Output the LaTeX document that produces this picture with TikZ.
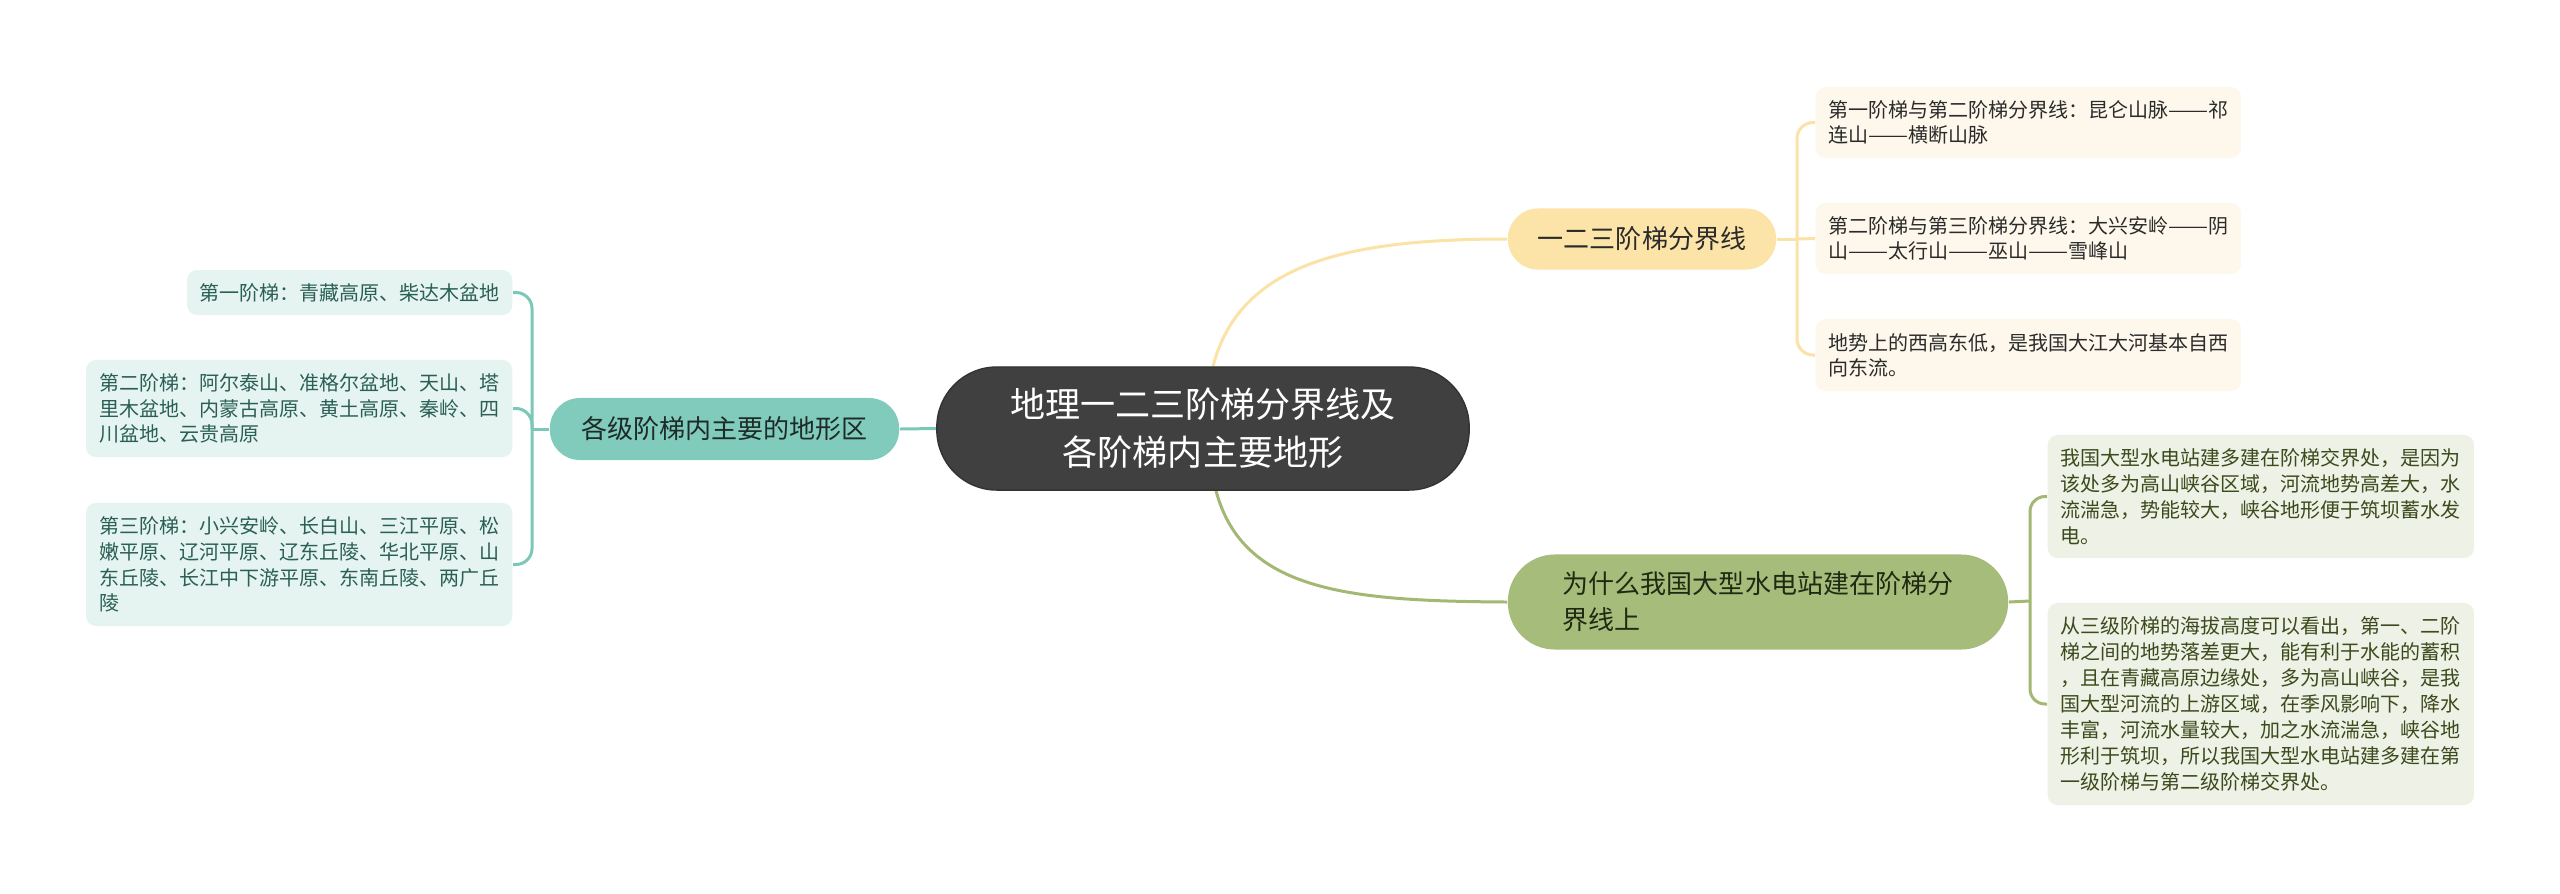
\documentclass[tikz,border=0pt]{standalone}
\usepackage{fontspec}
\usepackage{graphicx}
\newfontfamily\cjk{Noto Sans CJK SC}
\newcommand\zdash{\resizebox{2em}{\height}{——}}
\usetikzlibrary{backgrounds,calc}
\definecolor{cfill}{HTML}{404040}
\definecolor{cdraw}{HTML}{333333}
\definecolor{yfill}{HTML}{FCE3A8}
\definecolor{yline}{HTML}{FBE2A6}
\definecolor{yleaf}{HTML}{FDF8EB}
\definecolor{ytext}{HTML}{2B2B2B}
\definecolor{gfill}{HTML}{A6BC7B}
\definecolor{gline}{HTML}{A2B873}
\definecolor{gleaf}{HTML}{EEF1E6}
\definecolor{gtext}{HTML}{1F2A12}
\definecolor{gltext}{HTML}{3C4A1C}
\definecolor{tfill}{HTML}{80CBBC}
\definecolor{tline}{HTML}{7CC8B8}
\definecolor{tleaf}{HTML}{E5F4F0}
\definecolor{ttext}{HTML}{1E2B28}
\definecolor{tltext}{HTML}{2A5F55}
\begin{document}
\begin{tikzpicture}[x=0.01cm,y=-0.01cm,
  central/.style={fill=cfill, draw=cdraw, line width=0.4pt, rounded corners=0.6cm, text=white,
    font=\cjk\fontsize{9.96pt}{13.66pt}\selectfont, align=center, inner sep=0pt,
    minimum width=5.32cm, minimum height=1.23cm},
  lone/.style={inner sep=0pt, font=\cjk\fontsize{7.4pt}{10.24pt}\selectfont, align=left},
  leaf/.style={inner sep=0pt, rounded corners=0.1cm, align=left},
  rtleaf/.style={leaf, fill=yleaf, text=ytext, font=\cjk\fontsize{5.69pt}{7.11pt}\selectfont,
    minimum width=4.25cm, anchor=west},
  rbleaf/.style={leaf, fill=gleaf, text=gltext, font=\cjk\fontsize{5.69pt}{7.4pt}\selectfont,
    minimum width=4.26cm, anchor=west},
  lbleaf/.style={leaf, fill=tleaf, text=tltext, font=\cjk\fontsize{5.69pt}{7.3pt}\selectfont,
    anchor=east},
  conn/.style={line width=0.85pt},
  yc/.style={conn, draw=yline},
  gc/.style={conn, draw=gline},
  tc/.style={conn, draw=tline},
]
\useasboundingbox (0,0) rectangle (2560,893);

% central and first-level nodes
\node[central] (C) at (1203,428.5) {地理一二三阶梯分界线及\\各阶梯内主要地形};
\node[lone, fill=yfill, text=ytext, rounded corners=0.3cm, minimum width=2.68cm, minimum height=0.61cm] (Y) at (1642,239) {一二三阶梯分界线};
\node[lone, fill=gfill, text=gtext, rounded corners=0.47cm, minimum width=5.0cm, minimum height=0.95cm] (G) at (1758,602) {为什么我国大型水电站建在阶梯分\\界线上};
\node[lone, fill=tfill, text=ttext, rounded corners=0.3cm, minimum width=3.49cm, minimum height=0.62cm] (T) at (724.5,429) {各级阶梯内主要的地形区};

% right top leaves
\node[rtleaf, minimum height=0.71cm] (RT1) at (1815,122.5) {第一阶梯与第二阶梯分界线：昆仑山脉\zdash 祁\\连山\zdash 横断山脉};
\node[rtleaf, minimum height=0.71cm] (RT2) at (1815,238.5) {第二阶梯与第三阶梯分界线：大兴安岭\zdash 阴\\山\zdash 太行山\zdash 巫山\zdash 雪峰山};
\node[rtleaf, minimum height=0.72cm] (RT3) at (1815,355) {地势上的西高东低，是我国大江大河基本自西\\向东流。};

% right bottom leaves
\node[rbleaf, minimum height=1.23cm] (RB1) at (2047,496.5) {我国大型水电站建多建在阶梯交界处，是因为\\该处多为高山峡谷区域，河流地势高差大，水\\流湍急，势能较大，峡谷地形便于筑坝蓄水发\\电。};
\node[rbleaf, minimum height=2.02cm] (RB2) at (2047,704) {从三级阶梯的海拔高度可以看出，第一、二阶\\梯之间的地势落差更大，能有利于水能的蓄积\\，且在青藏高原边缘处，多为高山峡谷，是我\\国大型河流的上游区域，在季风影响下，降水\\丰富，河流水量较大，加之水流湍急，峡谷地\\形利于筑坝，所以我国大型水电站建多建在第\\一级阶梯与第二级阶梯交界处。};

% left leaves
\node[lbleaf, minimum width=3.25cm, minimum height=0.45cm] (LB1) at (513,292.5) {第一阶梯：青藏高原、柴达木盆地};
\node[lbleaf, minimum width=4.26cm, minimum height=0.97cm] (LB2) at (513,408.5) {第二阶梯：阿尔泰山、准格尔盆地、天山、塔\\里木盆地、内蒙古高原、黄土高原、秦岭、四\\川盆地、云贵高原};
\node[lbleaf, minimum width=4.26cm, minimum height=1.23cm] (LB3) at (513,564.5) {第三阶梯：小兴安岭、长白山、三江平原、松\\嫩平原、辽河平原、辽东丘陵、华北平原、山\\东丘陵、长江中下游平原、东南丘陵、两广丘\\陵};

% junctions
\coordinate (JY) at (1797,239);
\coordinate (JG) at (2030,601);
\coordinate (JT) at (532,429);

\begin{pgfonlayer}{background}
\fill[white] (0,0) rectangle (2560,893);
% central connectors
\draw[yc] ([xshift=0.1cm]C.north) .. controls (1240,262) and (1350,239) .. (Y.west);
\draw[gc] ([xshift=0.13cm]C.south) .. controls (1243,592) and (1350,601) .. (G.west);
\draw[tc] (C.west) -- (T.east);
% yellow bracket
\draw[yc] (Y.east) -- (JY);
\draw[yc, rounded corners=0.16cm] (JY) |- (RT1.west);
\draw[yc] (JY) -- (RT2.west);
\draw[yc, rounded corners=0.16cm] (JY) |- (RT3.west);
% green bracket
\draw[gc] (G.east) -- (JG);
\draw[gc, rounded corners=0.15cm] (JG) |- (RB1.west);
\draw[gc, rounded corners=0.15cm] (JG) |- (RB2.west);
% teal bracket
\draw[tc] (T.west) -- (JT);
\draw[tc, rounded corners=0.16cm] (JT) |- (LB1.east);
\draw[tc, rounded corners=0.16cm] (JT) |- (LB2.east);
\draw[tc, rounded corners=0.16cm] (JT) |- (LB3.east);
\end{pgfonlayer}
\end{tikzpicture}
\end{document}
